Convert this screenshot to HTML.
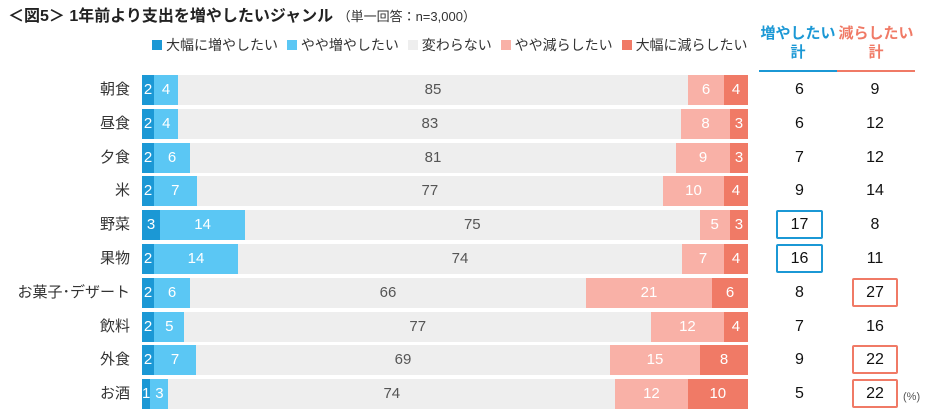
<!DOCTYPE html>
<html><head><meta charset="utf-8"><style>
body{margin:0;width:934px;height:419px;background:#fff;font-family:"Liberation Sans","Noto Sans CJK JP",sans-serif;position:relative;overflow:hidden}
.a{position:absolute}
.title{left:8px;top:2px;font-size:16px;font-weight:bold;color:#222}
.title span{font-weight:normal;font-size:13px;color:#333}
.leg{top:35px;font-size:14px;color:#333;white-space:nowrap}
.leg i{display:inline-block;width:10px;height:10px;margin-right:4px;vertical-align:0px}
.lab{width:130px;text-align:right;left:0;font-size:15px;color:#333;line-height:30px}
.bar{left:142px;width:606px;height:30px;display:flex}
.bar div{height:30px;line-height:30px;text-align:center;font-size:15px;color:#fff;overflow:visible;white-space:nowrap}
.s1{background:#1b98d5}.s2{background:#5bc7f4}.s3{background:#eeeeee;color:#555 !important}.s4{background:#f9b1a7}.s5{background:#f07a66}
.num{width:50px;text-align:center;font-size:16px;color:#111;line-height:30px}
.box{box-sizing:border-box;border:2.5px solid;border-radius:2px}
</style></head><body>
<div class="a title">＜図5＞ 1年前より支出を増やしたいジャンル <span>（単一回答：n=3,000）</span></div>
<div class="a leg" style="left:152px"><i class="s1"></i>大幅に増やしたい <i class="s2" style="margin-left:5px"></i>やや増やしたい <i class="s3" style="margin-left:5px"></i>変わらない <i class="s4" style="margin-left:5px"></i>やや減らしたい <i class="s5" style="margin-left:5px"></i>大幅に減らしたい</div>
<div class="a" style="left:758px;top:24px;width:80px;text-align:center;font-size:15px;font-weight:bold;color:#1b98d5;line-height:19px">増やしたい<br>計</div>
<div class="a" style="left:836px;top:24px;width:80px;text-align:center;font-size:15px;font-weight:bold;color:#f07a66;line-height:19px">減らしたい<br>計</div>
<div class="a" style="left:759px;top:70px;width:78px;height:2px;background:#1b98d5"></div>
<div class="a" style="left:837px;top:70px;width:78px;height:2px;background:#f07a66"></div>
<div id="rows"></div>
<div class="a" style="left:903px;top:391px;font-size:11px;color:#555">(%)</div>
<script>
var d=[["朝食",2,4,85,6,4,6,9],["昼食",2,4,83,8,3,6,12],["夕食",2,6,81,9,3,7,12],["米",2,7,77,10,4,9,14],["野菜",3,14,75,5,3,17,8],["果物",2,14,74,7,4,16,11],["お菓子･デザート",2,6,66,21,6,8,27],["飲料",2,5,77,12,4,7,16],["外食",2,7,69,15,8,9,22],["お酒",1,3,74,12,10,5,22]];
var bb=[4,5],rb=[6,8,9];var h="";
d.forEach(function(r,i){var t=75+i*33.8;
h+='<div class="a lab" style="top:'+t+'px">'+r[0]+'</div><div class="a bar" style="top:'+t+'px">';
for(var k=1;k<=5;k++)h+='<div class="s'+k+'" style="flex:'+r[k]+' 1 0">'+r[k]+'</div>';
h+='</div>';
h+='<div class="a num'+(bb.indexOf(i)>=0?' box':'')+'" style="left:776px;top:'+t+'px;width:47px;border-color:#1b98d5;'+(bb.indexOf(i)>=0?'line-height:25px':'')+'">'+r[6]+'</div>';
h+='<div class="a num'+(rb.indexOf(i)>=0?' box':'')+'" style="left:852px;top:'+t+'px;width:46px;border-color:#f07a66;'+(rb.indexOf(i)>=0?'line-height:25px':'')+'">'+r[7]+'</div>';
});
document.getElementById("rows").innerHTML=h;
</script>
</body></html>
